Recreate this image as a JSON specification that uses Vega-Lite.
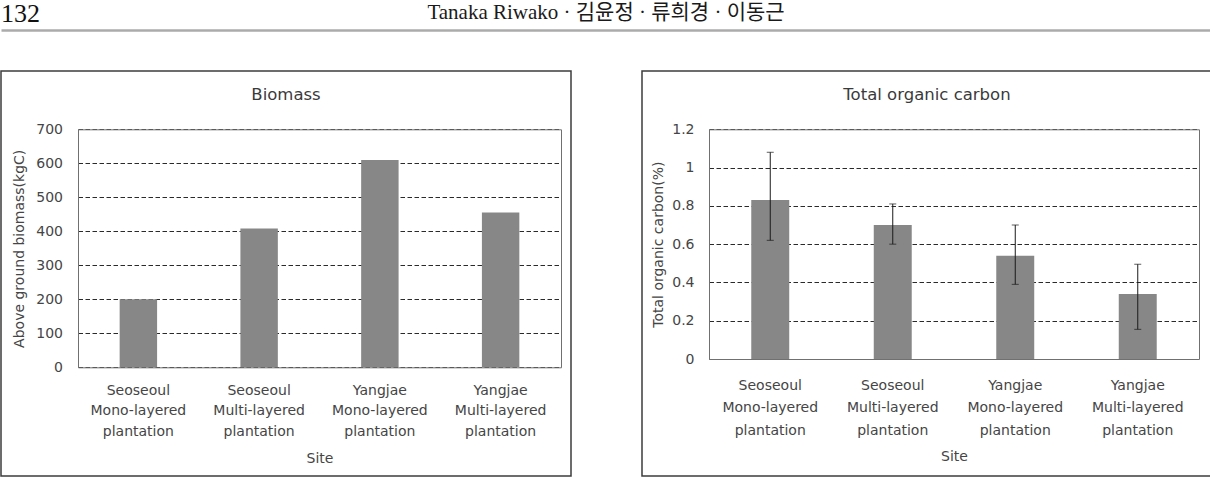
{
  "$schema": "https://vega.github.io/schema/vega-lite/v6.json",
  "background": "white",
  "padding": {"left": 0, "top": 0, "right": 0, "bottom": 0},
  "spacing": 40,
  "config": {
    "font": "DejaVu Sans",
    "view": {"stroke": null},
    "axis": {"labelFont": "DejaVu Sans", "titleFont": "DejaVu Sans"}
  },
  "vconcat": [
    {
      "width": 1210,
      "height": 30,
      "layer": [
        {
          "data": {"values": [{"slot": "page", "text": "132"}]},
          "mark": {"type": "text", "align": "left", "baseline": "alphabetic", "font": "Liberation Serif", "fontSize": 26, "dy": 7, "color": "#111111"},
          "encoding": {
            "x": {"field": "slot", "type": "nominal", "scale": {"type": "point", "domain": ["page", "authors", "end"], "padding": 0}, "axis": {"orient": "bottom", "domainColor": "#ababab", "domainWidth": 2.5, "labels": false, "ticks": false, "title": null, "grid": false}},
            "text": {"field": "text"}
          }
        },
        {
          "data": {"values": [{"slot": "authors", "text": "Tanaka  Riwako · 김윤정 · 류희경 · 이동근"}]},
          "mark": {"type": "text", "align": "center", "baseline": "alphabetic", "font": "Liberation Serif, Noto Sans CJK KR", "fontSize": 21, "dy": 4, "color": "#1a1a1a"},
          "encoding": {
            "x": {"field": "slot", "type": "nominal", "scale": {"type": "point", "domain": ["page", "authors", "end"], "padding": 0}, "axis": {"orient": "bottom", "domainColor": "#ababab", "domainWidth": 2.5, "labels": false, "ticks": false, "title": null, "grid": false}},
            "text": {"field": "text"}
          }
        }
      ]
    },
    {
      "spacing": 69,
      "hconcat": [
        {
          "width": 570,
          "height": 405,
          "view": {"stroke": "#3c3c3c", "strokeWidth": 1.5},
          "title": {"text": "Biomass", "frame": "group", "anchor": "middle", "offset": -32, "fontSize": 16.5, "fontWeight": "normal", "font": "DejaVu Sans", "color": "#3a3a3a"},
          "data": {
            "values": [
              {"site": "Seoseoul Mono-layered plantation", "biomass": 200},
              {"site": "Seoseoul Multi-layered plantation", "biomass": 408},
              {"site": "Yangjae Mono-layered plantation", "biomass": 610},
              {"site": "Yangjae Multi-layered plantation", "biomass": 455}
            ]
          },
          "layer": [
            {
              "mark": {"type": "bar", "color": "#878787"},
              "encoding": {
                "x": {
                  "field": "site", "type": "nominal", "sort": null,
                  "scale": {"range": [77, 560], "paddingInner": 0.69, "paddingOuter": 0.345},
                  "axis": {"orient": "bottom", "offset": -108.7, "domainColor": "#707070", "domainWidth": 1, "ticks": false, "labelAngle": 0, "labelPadding": 16, "labelExpr": "split(datum.label, ' ')", "labelLineHeight": 20.5, "labelFontSize": 14, "labelColor": "#454545", "labelLimit": 0, "title": "Site", "titleFontSize": 14, "titleFontWeight": "normal", "titleColor": "#454545", "titlePadding": 13, "grid": false}
                },
                "y": {
                  "field": "biomass", "type": "quantitative",
                  "scale": {"domain": [0, 700], "range": [296.3, 58.3], "nice": false},
                  "axis": {"orient": "left", "offset": -77, "domainColor": "#707070", "ticks": false, "values": [0, 100, 200, 300, 400, 500, 600, 700], "format": "d", "labelPadding": 15.5, "labelFontSize": 14, "labelColor": "#454545", "grid": true, "gridDash": [4.5, 2.5], "gridColor": "#2a2a2a", "gridWidth": 1, "gridOpacity": 1, "title": "Above ground biomass(kgC)", "titleFontSize": 14, "titleFontWeight": "normal", "titleColor": "#454545", "titlePadding": 9}
                }
              }
            },
            {
              "mark": {"type": "bar", "opacity": 0},
              "encoding": {
                "x": {"field": "site", "type": "nominal", "sort": null, "axis": {"orient": "top", "offset": -58.3, "domainColor": "#707070", "ticks": false, "labels": false, "title": null, "grid": false}},
                "y": {"field": "biomass", "type": "quantitative", "axis": {"orient": "right", "offset": -10, "domainColor": "#707070", "ticks": false, "labels": false, "title": null, "grid": false}}
              }
            }
          ],
          "resolve": {"axis": {"x": "independent", "y": "independent"}}
        },
        {
          "width": 570,
          "height": 405,
          "view": {"stroke": "#3c3c3c", "strokeWidth": 1.5},
          "title": {"text": "Total organic carbon", "frame": "group", "anchor": "middle", "offset": -32, "fontSize": 16.5, "fontWeight": "normal", "font": "DejaVu Sans", "color": "#3a3a3a"},
          "data": {
            "values": [
              {"site": "Seoseoul Mono-layered plantation", "toc": 0.83, "lower": 0.62, "upper": 1.08},
              {"site": "Seoseoul Multi-layered plantation", "toc": 0.70, "lower": 0.60, "upper": 0.81},
              {"site": "Yangjae Mono-layered plantation", "toc": 0.54, "lower": 0.39, "upper": 0.70},
              {"site": "Yangjae Multi-layered plantation", "toc": 0.34, "lower": 0.155, "upper": 0.495}
            ]
          },
          "layer": [
            {
              "mark": {"type": "bar", "color": "#878787"},
              "encoding": {
                "x": {
                  "field": "site", "type": "nominal", "sort": null,
                  "scale": {"range": [67, 557], "paddingInner": 0.69, "paddingOuter": 0.345},
                  "axis": {"orient": "bottom", "offset": -117, "domainColor": "#707070", "domainWidth": 1, "ticks": false, "labelAngle": 0, "labelPadding": 19, "labelExpr": "split(datum.label, ' ')", "labelLineHeight": 22.5, "labelFontSize": 14, "labelColor": "#454545", "labelLimit": 0, "title": "Site", "titleFontSize": 14, "titleFontWeight": "normal", "titleColor": "#454545", "titlePadding": 12.7, "grid": false}
                },
                "y": {
                  "field": "toc", "type": "quantitative",
                  "scale": {"domain": [0, 1.2], "range": [288, 58.3], "nice": false},
                  "axis": {"orient": "left", "offset": -67, "domainColor": "#707070", "ticks": false, "values": [0, 0.2, 0.4, 0.6, 0.8, 1, 1.2], "format": "~g", "labelPadding": 15, "labelFontSize": 14, "labelColor": "#454545", "grid": true, "gridDash": [4.5, 2.5], "gridColor": "#2a2a2a", "gridWidth": 1, "gridOpacity": 1, "title": "Total organic carbon(%)", "titleFontSize": 14, "titleFontWeight": "normal", "titleColor": "#454545", "titlePadding": 6}
                }
              }
            },
            {
              "mark": {"type": "bar", "opacity": 0},
              "encoding": {
                "x": {"field": "site", "type": "nominal", "sort": null, "axis": {"orient": "top", "offset": -58.3, "domainColor": "#707070", "ticks": false, "labels": false, "title": null, "grid": false}},
                "y": {"field": "toc", "type": "quantitative", "axis": {"orient": "right", "offset": -13, "domainColor": "#707070", "ticks": false, "labels": false, "title": null, "grid": false}}
              }
            },
            {
              "mark": {"type": "rule", "color": "#1a1a1a", "strokeWidth": 1},
              "encoding": {
                "x": {"field": "site", "type": "nominal", "sort": null, "axis": null},
                "y": {"field": "lower", "type": "quantitative", "axis": null},
                "y2": {"field": "upper"}
              }
            },
            {
              "mark": {"type": "tick", "color": "#1a1a1a", "size": 7, "thickness": 1},
              "encoding": {
                "x": {"field": "site", "type": "nominal", "sort": null, "axis": null},
                "y": {"field": "lower", "type": "quantitative", "axis": null}
              }
            },
            {
              "mark": {"type": "tick", "color": "#1a1a1a", "size": 7, "thickness": 1},
              "encoding": {
                "x": {"field": "site", "type": "nominal", "sort": null, "axis": null},
                "y": {"field": "upper", "type": "quantitative", "axis": null}
              }
            }
          ],
          "resolve": {"axis": {"x": "independent", "y": "independent"}}
        }
      ]
    }
  ]
}
